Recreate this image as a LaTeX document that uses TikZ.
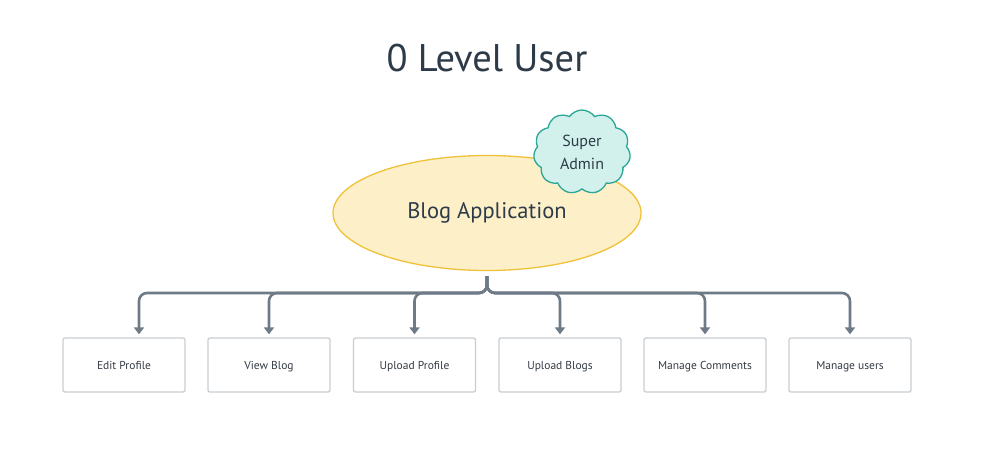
\documentclass[tikz,border=0pt]{standalone}
\usepackage{fontspec}
\setmainfont{PT Sans}
\usetikzlibrary{shapes.geometric,shapes.symbols,arrows.meta,calc}
\definecolor{titlec}{HTML}{2D3B48}
\definecolor{ellfill}{HTML}{FDF0C8}
\definecolor{elldraw}{HTML}{EFC23A}
\definecolor{cloudfill}{HTML}{D3F1EC}
\definecolor{clouddraw}{HTML}{2AA696}
\definecolor{linec}{HTML}{6E7B86}
\definecolor{boxc}{HTML}{C9CED3}
\definecolor{boxtext}{HTML}{333B44}
\tikzset{
  taskbox/.style={draw=boxc, line width=1.3pt, rounded corners=2pt, minimum width=122pt, minimum height=54pt, inner sep=0pt, text depth=0pt, font=\fontsize{11.5}{13}\selectfont, text=boxtext},
  link/.style={draw=linec, line width=2.6pt, rounded corners=8pt, -{Triangle[width=10pt,length=7pt]}},
}
\begin{document}
\begin{tikzpicture}[x=1pt,y=-1pt]
\useasboundingbox[fill=white] (0,0) rectangle (985,451);
\node[text=titlec, font=\fontsize{38.5}{42}\selectfont] (title) at (487,58) {0 Level User};
\node[ellipse, draw=elldraw, fill=ellfill, line width=1.3pt, minimum width=308pt, minimum height=115pt, inner sep=0pt, text=titlec, font=\fontsize{22.5}{26}\selectfont] (app) at (487,213) {Blog Application};
\node[cloud, cloud puffs=11, cloud puff arc=110, aspect=1.1, draw=clouddraw, fill=cloudfill, line width=1.3pt, minimum width=97pt, minimum height=84pt, inner sep=0pt, text=titlec, align=center, font=\fontsize{16}{23}\selectfont] (sa) at (582,152) {Super\\Admin};
\node[taskbox] (b1) at (124,365) {Edit Profile};
\node[taskbox] (b2) at (269,365) {View Blog};
\node[taskbox] (b3) at (414.5,365) {Upload Profile};
\node[taskbox] (b4) at (560,365) {Upload Blogs};
\node[taskbox] (b5) at (705,365) {Manage Comments};
\node[taskbox] (b6) at (850,365) {Manage users};
\coordinate (top) at ($(app.south)+(0,5)$);
\coordinate (t1) at ($(b1.north)+(15,-3)$);
\foreach \b in {b2,b3,b4,b5,b6}{
  \coordinate (t\b) at ($(\b.north)+(0,-3)$);
}
\draw[link] (top) -- (top |- 0,293) -- (t1 |- 0,293) -- (t1);
\foreach \b in {b2,b3,b4,b5,b6}{
  \draw[link] (top) -- (top |- 0,293) -- (t\b |- 0,293) -- (t\b);
}
\end{tikzpicture}
\end{document}
